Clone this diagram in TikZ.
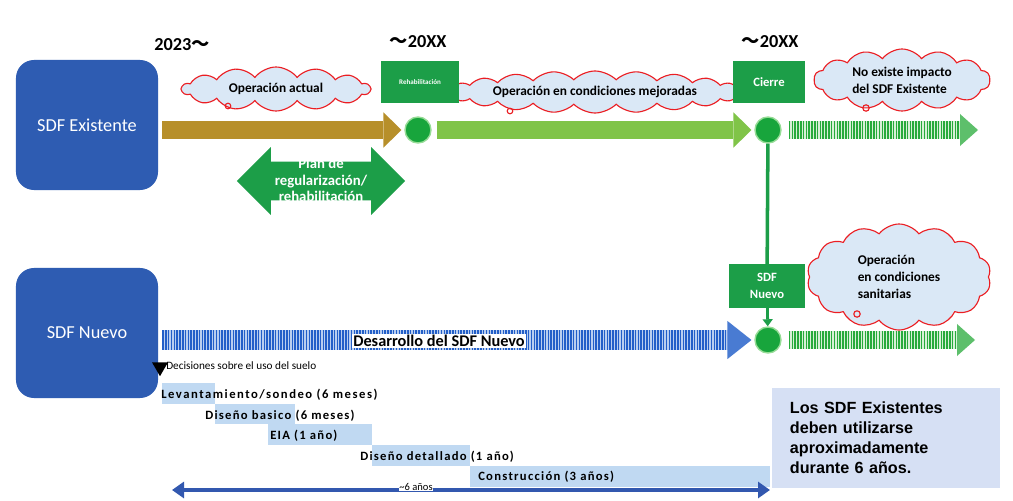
\documentclass[tikz,border=0pt]{standalone}
\usepackage{fontspec}
\setmainfont{Carlito}
\newfontfamily\arialb{Liberation Sans}
\newfontfamily\cjk{Noto Sans CJK JP}
\usetikzlibrary{arrows.meta,shapes.symbols,shapes.arrows,shapes.geometric}

\definecolor{azul}{RGB}{46,92,178}
\definecolor{oro}{RGB}{183,143,42}
\definecolor{verde}{RGB}{28,158,72}
\definecolor{verdeclaro}{RGB}{128,196,72}
\definecolor{verdehito}{RGB}{24,165,60}
\definecolor{verdeborde}{RGB}{150,220,150}
\definecolor{franjav}{RGB}{40,170,60}
\definecolor{fondov}{RGB}{215,240,215}
\definecolor{franjaa}{RGB}{35,95,200}
\definecolor{fondoa}{RGB}{185,206,240}
\definecolor{nubefondo}{RGB}{218,232,246}
\definecolor{rojo}{RGB}{235,30,35}
\definecolor{barra}{RGB}{192,217,242}
\definecolor{notafondo}{RGB}{214,224,244}
\definecolor{azul6}{RGB}{50,88,175}

\begin{document}
\begin{tikzpicture}[x=0.025cm,y=-0.025cm,
  caja/.style={rectangle,rounded corners=0.45cm,fill=azul,text=white,minimum width=3.55cm,minimum height=3.25cm,font=\fontsize{13}{15}\selectfont},
  hito/.style={circle,fill=verdehito,draw=verdeborde,line width=1pt,minimum size=0.65cm,inner sep=0pt},
  evento/.style={rectangle,fill=verde,text=white,font=\bfseries\fontsize{9}{12}\selectfont,align=center,inner sep=0pt},
  nube/.style={cloud,cloud puffs=14,cloud puff arc=105,cloud ignores aspect,draw=rojo,fill=nubefondo,line width=0.8pt,inner sep=0pt,font=\bfseries\fontsize{9.5}{12}\selectfont,align=left},
  anio/.style={font=\bfseries\fontsize{13}{15}\selectfont},
  gruesa/.style={line width=0.45cm,shorten <=4*0.025cm,-{Triangle[length=0.45cm,width=0.88cm,line width=0pt]}},
  franjas/.style 2 args={franja#1,line width=#2,dash pattern=on 1.1pt off 0.9pt,-{Triangle[length=0.45cm,width=0.8cm,line width=0pt,fill=franja#1!70!fondo#1]},
    preaction={draw=fondo#1,line width=#2,solid,-,shorten >=0.45cm}},
  fase/.style={anchor=west,inner sep=0pt,font=\bfseries\fontsize{9}{10}\selectfont\addfontfeature{LetterSpace=10}},
]
\useasboundingbox[fill=white] (0,0) rectangle (1013,500);

% fechas
\node[anio] (y0) at (182,45) {2023\cjk 〜};
\node[anio] (y1) at (418,42) {\cjk 〜\normalfont\bfseries 20XX};
\node[anio] (y2) at (770,42) {\cjk 〜\normalfont\bfseries 20XX};

% sitios de disposicion
\node[caja] (exist) at (87,125) {SDF Existente};
\node[caja] (nuevo) at (87,333) {SDF Nuevo};

% nubes
\node[nube,minimum width=4.7cm,minimum height=1.1cm] (nb1) at (276,89) {Operación actual};
\node[nube,cloud puffs=22,cloud puff arc=90,minimum width=7.4cm,minimum height=1.05cm] (nb2) at (595,92) {Operación en condiciones mejoradas};
\node[nube,minimum width=4.4cm,minimum height=1.55cm] (nb3) at (902,80) {No existe impacto\\del SDF Existente};
\node[nube,minimum width=4.6cm,minimum height=2.65cm] (nb4) at (899,277) {Operación\\en condiciones\\sanitarias};
\draw[rojo,line width=0.8pt] (228,106) circle (0.07cm) (510,111) circle (0.07cm) (866,108) circle (0.08cm) (857,314) circle (0.08cm);

% hitos
\node[evento,minimum width=1.95cm,minimum height=1.025cm,font=\bfseries\fontsize{5}{6}\selectfont] (rehab) at (420,82) {Rehabilitación};
\node[evento,minimum width=1.8cm,minimum height=1.025cm] (cierre) at (769,82) {Cierre};
\node[evento,minimum width=1.875cm,minimum height=1.075cm] (sdfn) at (767,286) {SDF\\Nuevo};
\node[hito] (c1) at (418,130) {};
\node[hito] (c2) at (768,130) {};
\node[hito] (c3) at (768,340) {};

% plan de regularizacion
\node[double arrow,fill=verde,minimum height=4.2cm,minimum width=1.675cm,inner xsep=0pt,inner ysep=0.475cm,
  double arrow head extend=0.3625cm,double arrow tip angle=90] (plan) at (321,181) {};
\node[text=white,align=center,font=\bfseries\fontsize{10.5}{11.5}\selectfont] (plantxt) at (321,180) {Plan de\\regularización/\\rehabilitación};

\coordinate (finA) at (978,130);
\coordinate (finB) at (975,340);
\draw[gruesa,oro,shorten >=2pt] (exist.east |- c1) -- (c1);
\draw[gruesa,verdeclaro,shorten <=5*0.025cm,shorten >=2pt] (c1) -- (c2);
\draw[franjas={v}{0.43cm},shorten <=7*0.025cm] (c2) -- (finA);
\draw[franjas={v}{0.43cm},shorten <=7*0.025cm] (c3) -- (finB);
\draw[franjas={a}{0.52cm},shorten <=4*0.025cm,shorten >=2pt,
  -{Triangle[length=0.6cm,width=0.95cm,line width=0pt,fill=franjaa!75!fondoa]}] (nuevo.east |- c3) -- (c3);
\draw[verde,line width=2.5pt] (c2) -- (sdfn);
\draw[verde,line width=2pt,-{Triangle[length=5pt,width=7pt]}] (sdfn) -- (c3);
\node[fill=white,inner sep=1pt,font=\bfseries\fontsize{11.6}{13}\selectfont] (desa) at (439,341) {Desarrollo del SDF Nuevo};

% cronograma
\node[regular polygon,regular polygon sides=3,shape border rotate=180,fill=black,minimum size=0.46cm,inner sep=0pt] (dec) at (160,367) {};
\node[anchor=west,inner sep=0pt,font=\fontsize{8}{10}\selectfont] (uso) at (166,366) {Decisiones sobre el uso del suelo};
\fill[barra] (162,383) rectangle (215,404);
\fill[barra] (215,404) rectangle (295,424);
\fill[barra] (268,424) rectangle (372,445);
\fill[barra] (372,445) rectangle (470,466);
\fill[barra] (470,466) rectangle (770,487);
\node[fase,font=\bfseries\fontsize{9}{10}\selectfont\addfontfeature{LetterSpace=12}] (f1) at (161,395) {Levantamiento/sondeo (6 meses)};
\node[fase] (f2) at (205,416) {Diseño basico (6 meses)};
\node[fase] (f3) at (270,436) {EIA (1 año)};
\node[fase] (f4) at (360,457) {Diseño detallado (1 año)};
\node[fase] (f5) at (478,477) {Construcción (3 años)};

\coordinate (ini6) at (172,490);
\coordinate (fin6) at (770,490);
\draw[azul6,line width=2.2pt,{Triangle[length=0.3cm,width=0.4cm]}-{Triangle[length=0.3cm,width=0.4cm]}] (ini6) -- (fin6);
\node[fill=white,inner sep=0.5pt,font=\fontsize{7.5}{8}\selectfont] (seis) at (416,487) {\textasciitilde 6 años};

\node[fill=notafondo,minimum width=5.7cm,minimum height=2.5cm,text width=4.8cm,align=left,
  font=\arialb\bfseries\fontsize{11.5}{14.2}\selectfont] (nota) at (886,438)
  {Los SDF Existentes\\deben utilizarse\\aproximadamente\\durante 6 años.};
\end{tikzpicture}
\end{document}
